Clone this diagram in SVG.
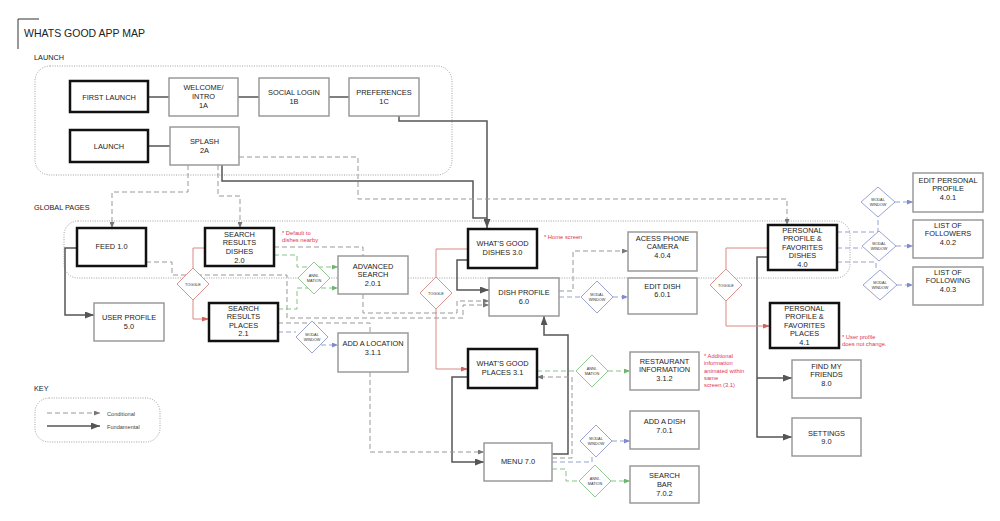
<svg xmlns="http://www.w3.org/2000/svg" width="1000" height="521" viewBox="0 0 1000 521">
<style>
text{font-family:"Liberation Sans",Arial,sans-serif;fill:#222}
.t{font-size:7.4px;text-anchor:middle}
.lbl{font-size:7.3px}
.title{font-size:10.5px}
.d{font-size:3.8px;text-anchor:middle;fill:#333}
.note{font-size:5.8px;fill:#e0364f}
.key{font-size:5.6px;fill:#444}
.b{fill:#fff;stroke:#111;stroke-width:2.5}
.g{fill:#fff;stroke:#9a9a9a;stroke-width:1.5}
.box{fill:none;stroke:#888;stroke-width:0.8;stroke-dasharray:1 1.4}
.s{fill:none;stroke:#555;stroke-width:1.5}
.dg{fill:none;stroke:#999;stroke-width:1;stroke-dasharray:5 3}
.dgr{fill:none;stroke:#86c286;stroke-width:1;stroke-dasharray:5 3}
.db{fill:none;stroke:#97a0d4;stroke-width:1;stroke-dasharray:5 3}
.r{fill:none;stroke:#d98884;stroke-width:1}
.tg{fill:#fff;stroke:#d98884;stroke-width:0.9}
.an{fill:#fff;stroke:#86c286;stroke-width:0.9}
.mw{fill:#fff;stroke:#8f98cc;stroke-width:0.9}
</style>
<defs>
<marker id="aS" markerWidth="9" markerHeight="7" refX="9" refY="3.5" orient="auto" markerUnits="userSpaceOnUse"><path d="M0,0 L9,3.5 L0,7 z" fill="#555"/></marker>
<marker id="aG" markerWidth="6" markerHeight="5" refX="6" refY="2.5" orient="auto" markerUnits="userSpaceOnUse"><path d="M0,0 L6,2.5 L0,5 z" fill="#777"/></marker>
<marker id="aGr" markerWidth="6" markerHeight="5" refX="6" refY="2.5" orient="auto" markerUnits="userSpaceOnUse"><path d="M0,0 L6,2.5 L0,5 z" fill="#6fb46f"/></marker>
<marker id="aB" markerWidth="6" markerHeight="5" refX="6" refY="2.5" orient="auto" markerUnits="userSpaceOnUse"><path d="M0,0 L6,2.5 L0,5 z" fill="#7f8ad0"/></marker>
<marker id="aR" markerWidth="7" markerHeight="5" refX="7" refY="2.5" orient="auto" markerUnits="userSpaceOnUse"><path d="M0,0 L7,2.5 L0,5 z" fill="#d0635e"/></marker>
</defs>
<rect width="1000" height="521" fill="#fff"/>

<g id="title">
<path d="M18,49 V19 H39" fill="none" stroke="#333" stroke-width="1"/>
<text class="title" x="24" y="37">WHATS GOOD APP MAP</text>
<text class="lbl" x="34" y="60">LAUNCH</text>
<text class="lbl" x="34" y="210">GLOBAL PAGES</text>
</g>

<g id="containers">
<rect class="box" x="35" y="66" width="417" height="109" rx="15"/>
<rect class="box" x="64" y="221" width="786" height="57" rx="14"/>
</g>

<g id="connectors">
<path class="s" d="M148,97 H169"/>
<path class="s" d="M238,97 H259"/>
<path class="s" d="M329,97 H349"/>
<path class="s" d="M148,146 H170"/>
<path class="s" d="M399,116 V121 H487 V228" marker-end="url(#aS)"/>
<path class="s" d="M222,165 V181 H473 V218 H487"/>
<path class="s" d="M77,248 H65 V315 H94" marker-end="url(#aS)"/>
<path class="s" d="M468,260 H457 V290 H489" marker-end="url(#aS)"/>
<path class="s" d="M768,257 H757 V437 H792" marker-end="url(#aS)"/>
<path class="s" d="M757,378 H792" marker-end="url(#aS)"/>
<path class="s" d="M468,377 H452 V462 H484" marker-end="url(#aS)"/>
<path class="s" d="M552,454 H568 V335 H544 V316" marker-end="url(#aS)"/>

<path class="dg" d="M239,157 H358 V199 H787 V225" marker-end="url(#aG)"/>
<path class="dg" d="M188,165 V192 H112 V228" marker-end="url(#aG)"/>
<path class="dg" d="M218,165 V196 H240 V228" marker-end="url(#aG)"/>
<path class="dg" d="M146,262 H172 V275 H287 V318 H463 V305 H489" marker-end="url(#aG)"/>
<path class="dg" d="M274,247 H363 V256"/>
<path class="dg" d="M363,294 V313 H457 V301 H489" marker-end="url(#aG)"/>
<path class="dg" d="M278,323 H370 V333"/>
<path class="dg" d="M370,372 V452 H484" marker-end="url(#aG)"/>
<path class="dg" d="M552,458 H572 V377 H537" marker-end="url(#aG)"/>
<path class="dg" d="M559,291 H573 V251 H628" marker-end="url(#aG)"/>

<path class="dgr" d="M274,255 H297 V267 H338" marker-end="url(#aGr)"/>
<path class="dgr" d="M278,309 H297 V288 H338" marker-end="url(#aGr)"/>
<path class="dgr" d="M537,371 H576"/>
<path class="dgr" d="M608,371 H630" marker-end="url(#aGr)"/>
<path class="dgr" d="M552,469 H566 V481 H579"/>
<path class="dgr" d="M611,481 H630" marker-end="url(#aGr)"/>

<path class="db" d="M278,332 H296"/>
<path class="db" d="M321,345 H338" marker-end="url(#aB)"/>
<path class="db" d="M559,297 H581"/>
<path class="db" d="M613,297 H628" marker-end="url(#aB)"/>
<path class="db" d="M552,462 H592 V457"/>
<path class="db" d="M612,441 H630" marker-end="url(#aB)"/>
<path class="db" d="M837,232 H878 V217"/>
<path class="db" d="M837,248 H862"/>
<path class="db" d="M837,262 H876 V270"/>
<path class="db" d="M895,202 H913" marker-end="url(#aB)"/>
<path class="db" d="M896,246 H913" marker-end="url(#aB)"/>
<path class="db" d="M897,285 H913" marker-end="url(#aB)"/>

<path class="r" d="M205,248 H193 V268"/>
<path class="r" d="M193,300 V319 H209" marker-end="url(#aR)"/>
<path class="r" d="M468,249 H436 V277"/>
<path class="r" d="M436,309 V369 H468" marker-end="url(#aR)"/>
<path class="r" d="M768,248 H726 V269"/>
<path class="r" d="M726,301 V326 H770" marker-end="url(#aR)"/>
</g>

<g id="n-first-launch"><rect class="b" x="70" y="81" width="78" height="31"/><text class="t" x="109" y="99.5">FIRST LAUNCH</text></g>
<g id="n-1a"><rect class="g" x="169" y="78" width="69" height="38"/><text class="t" x="203.5" y="90">WELCOME/</text><text class="t" x="203.5" y="99">INTRO</text><text class="t" x="203.5" y="108">1A</text></g>
<g id="n-1b"><rect class="g" x="259" y="78" width="70" height="38"/><text class="t" x="294" y="94.5">SOCIAL LOGIN</text><text class="t" x="294" y="103.5">1B</text></g>
<g id="n-1c"><rect class="g" x="349" y="78" width="70" height="38"/><text class="t" x="384" y="94.5">PREFERENCES</text><text class="t" x="384" y="103.5">1C</text></g>
<g id="n-launch"><rect class="b" x="70" y="130" width="78" height="32"/><text class="t" x="109" y="148.5">LAUNCH</text></g>
<g id="n-2a"><rect class="g" x="170" y="127" width="69" height="38"/><text class="t" x="204.5" y="143.5">SPLASH</text><text class="t" x="204.5" y="152.5">2A</text></g>

<g id="n-1-0"><rect class="b" x="77" y="228" width="69" height="38"/><text class="t" x="111.5" y="249">FEED 1.0</text></g>
<g id="n-2-0"><rect class="b" x="205" y="228" width="69" height="38"/><text class="t" x="239.5" y="236.5">SEARCH</text><text class="t" x="239.5" y="245">RESULTS</text><text class="t" x="239.5" y="253.5">DISHES</text><text class="t" x="239.5" y="262.5">2.0</text></g>
<g id="n-2-1"><rect class="b" x="209" y="303" width="69" height="38"/><text class="t" x="243.5" y="310.5">SEARCH</text><text class="t" x="243.5" y="319">RESULTS</text><text class="t" x="243.5" y="327.5">PLACES</text><text class="t" x="243.5" y="336">2.1</text></g>
<g id="n-5-0"><rect class="g" x="94" y="303" width="70" height="38"/><text class="t" x="129" y="319.5">USER PROFILE</text><text class="t" x="129" y="328.5">5.0</text></g>
<g id="n-2-0-1"><rect class="g" x="338" y="256" width="70" height="38"/><text class="t" x="373" y="268.5">ADVANCED</text><text class="t" x="373" y="277">SEARCH</text><text class="t" x="373" y="285.5">2.0.1</text></g>
<g id="n-3-1-1"><rect class="g" x="338" y="333" width="70" height="39"/><text class="t" x="373" y="345.5">ADD A LOCATION</text><text class="t" x="373" y="354.5">3.1.1</text></g>
<g id="n-3-0"><rect class="b" x="468" y="229" width="69" height="39"/><text class="t" x="502.5" y="246">WHAT'S GOOD</text><text class="t" x="502.5" y="255">DISHES 3.0</text></g>
<g id="n-6-0"><rect class="g" x="489" y="278" width="70" height="38"/><text class="t" x="524" y="295">DISH PROFILE</text><text class="t" x="524" y="303.5">6.0</text></g>
<g id="n-4-0-4"><rect class="g" x="628" y="232" width="69" height="39"/><text class="t" x="662.5" y="240.5">ACESS PHONE</text><text class="t" x="662.5" y="249">CAMERA</text><text class="t" x="662.5" y="257.5">4.0.4</text></g>
<g id="n-6-0-1"><rect class="g" x="628" y="278" width="69" height="36"/><text class="t" x="662.5" y="288.5">EDIT DISH</text><text class="t" x="662.5" y="297">6.0.1</text></g>
<g id="n-3-1"><rect class="b" x="468" y="349" width="69" height="39"/><text class="t" x="502.5" y="366">WHAT'S GOOD</text><text class="t" x="502.5" y="375">PLACES 3.1</text></g>
<g id="n-7-0"><rect class="g" x="484" y="443" width="68" height="38"/><text class="t" x="518" y="464">MENU 7.0</text></g>
<g id="n-3-1-2"><rect class="g" x="630" y="352" width="69" height="38"/><text class="t" x="664.5" y="363.5">RESTAURANT</text><text class="t" x="664.5" y="372">INFORMATION</text><text class="t" x="664.5" y="380.5">3.1.2</text></g>
<g id="n-7-0-1"><rect class="g" x="630" y="411" width="69" height="38"/><text class="t" x="664.5" y="423.5">ADD A DISH</text><text class="t" x="664.5" y="432.5">7.0.1</text></g>
<g id="n-7-0-2"><rect class="g" x="630" y="466" width="69" height="37"/><text class="t" x="664.5" y="477.5">SEARCH</text><text class="t" x="664.5" y="486.5">BAR</text><text class="t" x="664.5" y="495.5">7.0.2</text></g>
<g id="n-4-0"><rect class="b" x="768" y="225" width="69" height="45"/><text class="t" x="802.5" y="232.5">PERSONAL</text><text class="t" x="802.5" y="241">PROFILE &amp;</text><text class="t" x="802.5" y="249.5">FAVORITES</text><text class="t" x="802.5" y="258">DISHES</text><text class="t" x="802.5" y="266.5">4.0</text></g>
<g id="n-4-1"><rect class="b" x="770" y="303" width="69" height="45"/><text class="t" x="804.5" y="310.5">PERSONAL</text><text class="t" x="804.5" y="319">PROFILE &amp;</text><text class="t" x="804.5" y="327.5">FAVORITES</text><text class="t" x="804.5" y="336">PLACES</text><text class="t" x="804.5" y="344.5">4.1</text></g>
<g id="n-8-0"><rect class="g" x="792" y="360" width="69" height="38"/><text class="t" x="826.5" y="368.5">FIND MY</text><text class="t" x="826.5" y="377">FRIENDS</text><text class="t" x="826.5" y="385.5">8.0</text></g>
<g id="n-9-0"><rect class="g" x="792" y="418" width="69" height="38"/><text class="t" x="826.5" y="435.5">SETTINGS</text><text class="t" x="826.5" y="444">9.0</text></g>
<g id="n-4-0-1"><rect class="g" x="913" y="173" width="70" height="39"/><text class="t" x="948" y="182.5">EDIT PERSONAL</text><text class="t" x="948" y="191">PROFILE</text><text class="t" x="948" y="199.5">4.0.1</text></g>
<g id="n-4-0-2"><rect class="g" x="913" y="220" width="70" height="38"/><text class="t" x="948" y="227.5">LIST OF</text><text class="t" x="948" y="236">FOLLOWERS</text><text class="t" x="948" y="244.5">4.0.2</text></g>
<g id="n-4-0-3"><rect class="g" x="913" y="267" width="70" height="38"/><text class="t" x="948" y="274.5">LIST OF</text><text class="t" x="948" y="283">FOLLOWING</text><text class="t" x="948" y="291.5">4.0.3</text></g>

<g id="d-toggle-1"><path class="tg" d="M193,268 L209,284 L193,300 L177,284 z"/><text class="d" x="193" y="285.5">TOGGLE</text></g>
<g id="d-anim-1"><path class="an" d="M314,262 L330,278 L314,294 L298,278 z"/><text class="d" x="314" y="276.5">ANNI-</text><text class="d" x="314" y="281.5">MATION</text></g>
<g id="d-modal-1"><path class="mw" d="M312,321 L328,337 L312,353 L296,337 z"/><text class="d" x="312" y="335.5">MODAL</text><text class="d" x="312" y="340.5">WINDOW</text></g>
<g id="d-toggle-2"><path class="tg" d="M436,277 L452,293 L436,309 L420,293 z"/><text class="d" x="436" y="294.5">TOGGLE</text></g>
<g id="d-modal-2"><path class="mw" d="M597,281 L613,297 L597,313 L581,297 z"/><text class="d" x="597" y="295.5">MODAL</text><text class="d" x="597" y="300.5">WINDOW</text></g>
<g id="d-anim-2"><path class="an" d="M592,355 L608,371 L592,387 L576,371 z"/><text class="d" x="592" y="369.5">ANNI-</text><text class="d" x="592" y="374.5">MATION</text></g>
<g id="d-modal-3"><path class="mw" d="M596,425 L612,441 L596,457 L580,441 z"/><text class="d" x="596" y="439.5">MODAL</text><text class="d" x="596" y="444.5">WINDOW</text></g>
<g id="d-anim-3"><path class="an" d="M595,465 L611,481 L595,497 L579,481 z"/><text class="d" x="595" y="479.5">ANNI-</text><text class="d" x="595" y="484.5">MATION</text></g>
<g id="d-toggle-3"><path class="tg" d="M726,269 L742,285 L726,301 L710,285 z"/><text class="d" x="726" y="286.5">TOGGLE</text></g>
<g id="d-modal-4"><path class="mw" d="M878,187 L895,202 L878,217 L861,202 z"/><text class="d" x="878" y="200.5">MODAL</text><text class="d" x="878" y="205.5">WINDOW</text></g>
<g id="d-modal-5"><path class="mw" d="M879,231 L896,246 L879,261 L862,246 z"/><text class="d" x="879" y="244.5">MODAL</text><text class="d" x="879" y="249.5">WINDOW</text></g>
<g id="d-modal-6"><path class="mw" d="M880,270 L897,285 L880,300 L863,285 z"/><text class="d" x="880" y="283.5">MODAL</text><text class="d" x="880" y="288.5">WINDOW</text></g>

<g id="notes">
<text class="note" x="282" y="235">* Default to</text>
<text class="note" x="282" y="242">dishes nearby</text>
<text class="note" x="544" y="239">* Home screen</text>
<text class="note" x="704" y="357.5">* Additional</text>
<text class="note" x="704" y="365">information</text>
<text class="note" x="704" y="372.5">animated within</text>
<text class="note" x="704" y="379.5">same</text>
<text class="note" x="704" y="387">screen (3.1)</text>
<text class="note" x="842" y="339">* User profile</text>
<text class="note" x="842" y="346">does not change.</text>
</g>

<g id="key">
<text class="lbl" x="34" y="391">KEY</text>
<rect class="box" x="35" y="398" width="125" height="44" rx="14"/>
<path class="dg" d="M47,413 H100" marker-end="url(#aG)"/>
<path class="s" d="M47,426 H100" marker-end="url(#aS)"/>
<text class="key" x="107" y="415.5">Conditional</text>
<text class="key" x="107" y="428.5">Fundamental</text>
</g>
</svg>
